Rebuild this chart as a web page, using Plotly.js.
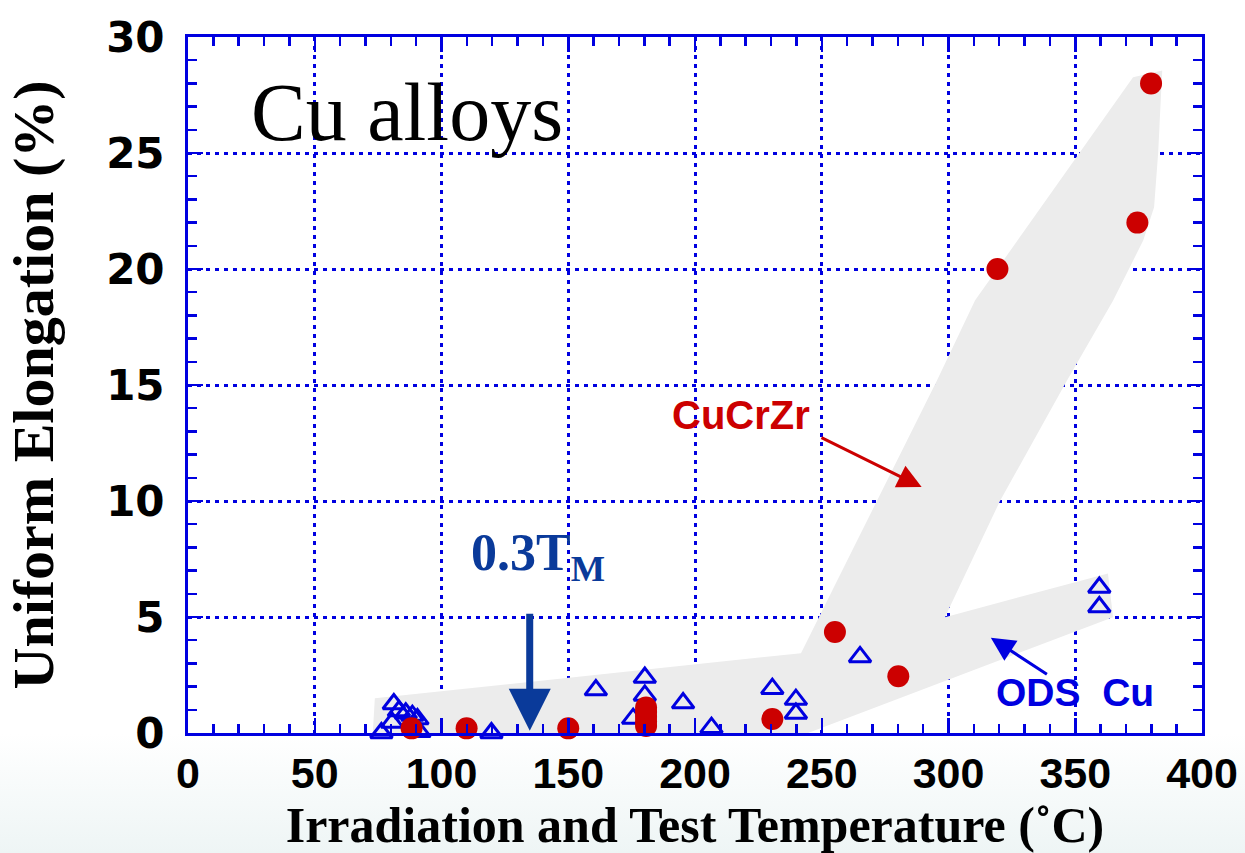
<!DOCTYPE html>
<html>
<head>
<meta charset="utf-8">
<script src="https://cdn.plot.ly/plotly-3.0.1.min.js"></script>
<style>
  html, body { margin:0; padding:0; }
  body { width:1245px; height:853px; background: linear-gradient(to bottom, #ffffff 0%, #ffffff 86%, #eef5f5 100%); }
  #chart { width:1245px; height:853px; }
</style>
</head>
<body>
<div id="chart"></div>
<script>
// CuCrZr (red filled circles)
const cucrzrTemp = [88.2, 109.9, 150, 180.7, 180.7, 180.7, 180.7, 180.7, 230.5, 255.2, 280.2, 319.3, 374.5, 379.9];
const cucrzrElong = [0.2, 0.2, 0.2, 0.3, 0.5, 0.7, 0.9, 1.1, 0.6, 4.35, 2.45, 20.0, 22.0, 28.0];

// ODS Cu (blue open triangles)
const odsTemp = [76.3, 80.5, 81.2, 83.2, 85.9, 88.5, 90.5, 91.3, 119.7, 160.9, 175.6, 180.2, 180.2, 195.3, 206.5, 230.5, 239.8, 239.8, 265.1, 359.5, 359.5];
const odsElong = [0.0, 0.45, 1.25, 0.95, 0.85, 0.75, 0.6, 0.05, 0.0, 1.85, 0.62, 2.39, 1.62, 1.29, 0.23, 1.91, 1.44, 0.84, 3.28, 6.27, 5.43];

// Gray trend band outline (temperature, elongation)
const bandTemp = [72.9, 73.7, 241.8, 295.5, 310.5, 372.8, 384.3, 382.7, 381.1, 376.8, 365.0, 346.8, 320.3, 298.6, 362.9, 364.9, 244.6];
const bandElong = [0, 1.50, 3.44, 15.2, 18.65, 28.26, 28.56, 24.99, 22.66, 21.23, 18.65, 15.2, 10.0, 4.99, 6.88, 4.99, 0];

const xTickVals = [0, 50, 100, 150, 200, 250, 300, 350, 400];
const xTickText = ['0', '50', '100', '150', '200', '250', '300', '350', '400'];
const yTickVals = [0, 5, 10, 15, 20, 25, 30];
const yTickText = ['0', '5', '10', '15', '20', '25', '30'];

const BLUE = '#0000e0';
const RED = '#cc0000';
const DARKBLUE = '#0a3a9a';

// minor tick positions (axis decoration only)
const xMinor = [];
for (let v = 0; v <= 400; v += 10) if (v % 50 !== 0) xMinor.push(v);
const yMinor = [];
for (let v = 0; v <= 30; v += 1) if (v % 5 !== 0) yMinor.push(v);

const traces = [
  {
    x: bandTemp, y: bandElong, type: 'scatter', mode: 'lines',
    fill: 'toself', fillcolor: '#ececec', line: {width: 0, color: 'rgba(0,0,0,0)'},
    hoverinfo: 'skip', showlegend: false, cliponaxis: false
  },
  {
    x: odsTemp, y: odsElong, type: 'scatter', mode: 'markers', name: 'ODS Cu',
    marker: {symbol: 'triangle-up-open', size: 19, color: BLUE, line: {width: 3, color: BLUE}},
    cliponaxis: false, showlegend: false
  },
  {
    x: cucrzrTemp, y: cucrzrElong, type: 'scatter', mode: 'markers', name: 'CuCrZr',
    marker: {symbol: 'circle', size: 22, color: RED, line: {width: 0}},
    cliponaxis: false, showlegend: false
  }
];

const axisCommon = {
  showline: true, linecolor: BLUE, linewidth: 3, mirror: 'ticks',
  ticks: 'inside', ticklen: 15, tickwidth: 2.5, tickcolor: BLUE,
  showgrid: true, gridcolor: BLUE, gridwidth: 3, griddash: '4px,5px',
  zeroline: false, fixedrange: true
};

const layout = {
  width: 1245, height: 853,
  margin: {l: 188, r: 43, t: 37, b: 120},
  paper_bgcolor: 'rgba(0,0,0,0)',
  plot_bgcolor: '#ffffff',
  showlegend: false,
  xaxis: Object.assign({}, axisCommon, {
    range: [0, 400], tickmode: 'array', tickvals: xTickVals, ticktext: xTickText,
    minor: {tickmode: 'array', tickvals: xMinor, ticks: 'inside', ticklen: 9, tickwidth: 2.5, tickcolor: BLUE, showgrid: false},
    tickfont: {family: 'Liberation Sans, Arial', size: 43, color: '#000', weight: 'bold'},
    ticklabelstandoff: 0,
    title: {text: 'Irradiation and Test Temperature (˚C)', standoff: 4,
            font: {family: 'Liberation Serif, Times New Roman, serif', size: 50, color: '#000', weight: 'bold'}}
  }),
  yaxis: Object.assign({}, axisCommon, {
    range: [0, 30], tickmode: 'array', tickvals: yTickVals, ticktext: yTickText,
    minor: {tickmode: 'array', tickvals: yMinor, ticks: 'inside', ticklen: 9, tickwidth: 2.5, tickcolor: BLUE, showgrid: false},
    tickfont: {family: 'DejaVu Sans, Arial', size: 42, color: '#000', weight: 'bold'},
    ticklabelstandoff: 12,
    title: {text: 'Uniform Elongation (%)', standoff: 34,
            font: {family: 'Liberation Serif, Times New Roman, serif', size: 58, color: '#000', weight: 'bold'}}
  }),
  annotations: [
    {x: 86.4, y: 26.75, xref: 'x', yref: 'y', text: 'Cu alloys', showarrow: false,
     font: {family: 'Liberation Serif, Times New Roman, serif', size: 82, color: '#000'}},
    {x: 218, y: 13.7, xref: 'x', yref: 'y', text: 'CuCrZr', showarrow: false,
     font: {family: 'Liberation Sans, Arial', size: 40, color: RED, weight: 'bold'}},
    {x: 289.4, y: 10.6, xref: 'x', yref: 'y', ax: 249.3, ay: 12.76, axref: 'x', ayref: 'y',
     text: '', showarrow: true, arrowhead: 2, arrowsize: 1.6, arrowwidth: 3, arrowcolor: RED},
    {x: 350, y: 1.75, xref: 'x', yref: 'y', text: 'ODS&nbsp; Cu', showarrow: false,
     font: {family: 'Liberation Sans, Arial', size: 39, color: BLUE, weight: 'bold'}},
    {x: 316.7, y: 4.11, xref: 'x', yref: 'y', ax: 339.4, ay: 2.49, axref: 'x', ayref: 'y',
     text: '', showarrow: true, arrowhead: 2, arrowsize: 1.6, arrowwidth: 3, arrowcolor: BLUE},
    {x: 138, y: 7.6, xref: 'x', yref: 'y', text: '0.3T<sub>M</sub>', showarrow: false,
     font: {family: 'Liberation Serif, Times New Roman, serif', size: 52, color: DARKBLUE, weight: 'bold'}},
    {x: 134.8, y: 0.1, xref: 'x', yref: 'y', ax: 134.8, ay: 5.2, axref: 'x', ayref: 'y',
     text: '', showarrow: true, arrowhead: 2, arrowsize: 1.2, arrowwidth: 7, arrowcolor: DARKBLUE}
  ]
};

Plotly.newPlot('chart', traces, layout, {displayModeBar: false, staticPlot: true});
</script>
</body>
</html>
